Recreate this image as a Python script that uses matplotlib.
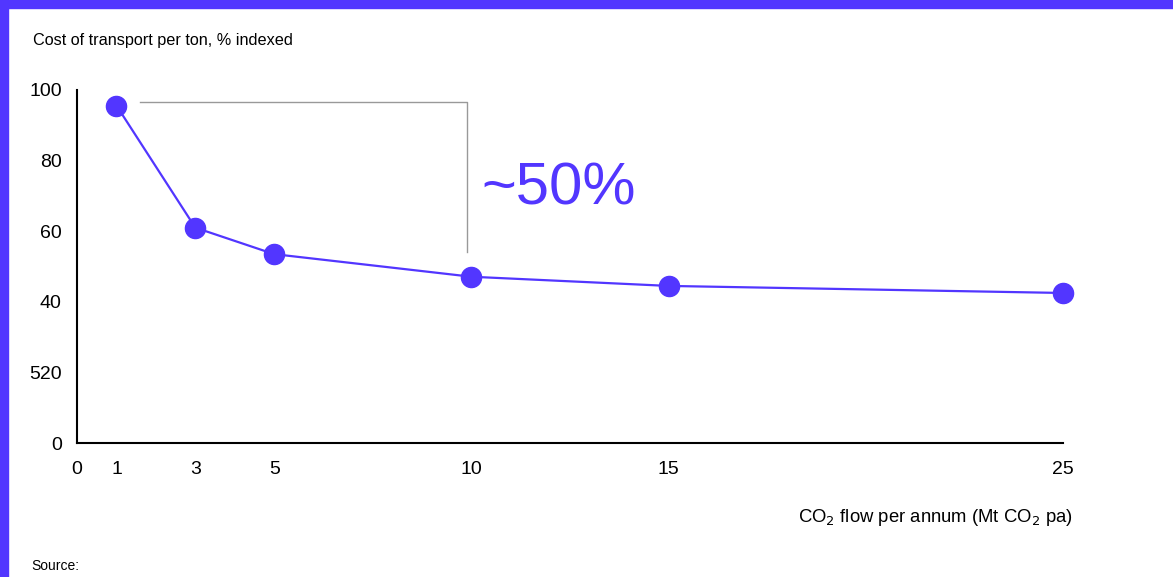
import matplotlib.pyplot as plt
from matplotlib.patches import Rectangle

# data
flow = [1, 3, 5, 10, 15, 25]
cost = [95.6, 61.0, 53.5, 47.1, 44.5, 42.5]
x_ticks = [0, 1, 3, 5, 10, 15, 25]
y_ticks = [0, 20, 40, 60, 80, 100]
y_tick_labels = ['0', '520', '40', '60', '80', '100']

purple = '#5236FF'
plt.rcParams['font.family'] = ['Liberation Sans', 'DejaVu Sans']

W, H = 1173, 577
fig = plt.figure(figsize=(W / 100, H / 100), dpi=100)

# purple frame on top and left
fig.patches.append(Rectangle((0, 1 - 8 / H), 1, 8 / H, transform=fig.transFigure,
                             color=purple, zorder=0))
fig.patches.append(Rectangle((0, 0), 8 / W, 1, transform=fig.transFigure,
                             color=purple, zorder=0))

ax = fig.add_axes([77 / W, 1 - 443 / H, (1063 - 77) / W, (443 - 90) / H])
ax.plot(flow, cost, color=purple, lw=1.6, marker='o', ms=14.5, zorder=3, clip_on=False)

# bracket showing the ~50% drop
ax.plot([1.6, 9.9, 9.9], [96.6, 96.6, 54.2], color='#999999', lw=1)
ax.text(10.25, 72, '~50%', color=purple, fontsize=43, va='center', ha='left')

ax.set_xlim(0, 25)
ax.set_ylim(0, 100)
ax.set_xticks(x_ticks)
ax.set_yticks(y_ticks)
ax.set_yticklabels(y_tick_labels)
ax.tick_params(length=0, labelsize=14)
ax.tick_params(axis='x', pad=13)
ax.tick_params(axis='y', pad=11)
for s in ['top', 'right']:
    ax.spines[s].set_visible(False)
for s in ['left', 'bottom']:
    ax.spines[s].set_linewidth(1.5)

fig.text(33 / W, 1 - 40 / H, 'Cost of transport per ton, % indexed', fontsize=11.7, va='center')
fig.text(1073 / W, 1 - 517 / H, r'CO$_2$ flow per annum (Mt CO$_2$ pa)', fontsize=13.3,
         va='center', ha='right')
fig.text(31 / W, 1 - 566 / H, 'Source:', fontsize=10, va='center')

fig.savefig('out.png', dpi=100)
